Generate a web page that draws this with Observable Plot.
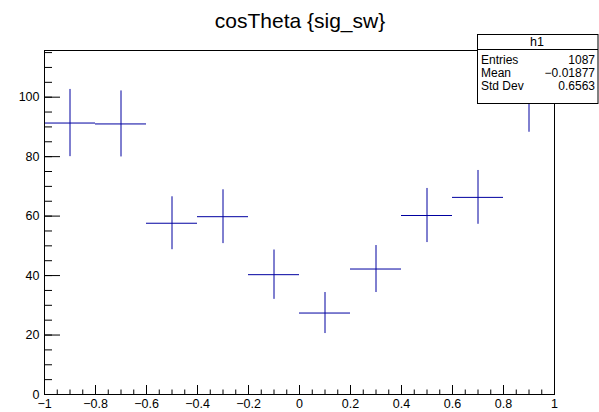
<!DOCTYPE html>
<html><head><meta charset="utf-8">
<script src="https://cdn.jsdelivr.net/npm/d3@7"></script>
<script src="https://cdn.jsdelivr.net/npm/@observablehq/plot@0.6"></script>
<style>body{margin:0;background:#fff;font-family:"Liberation Sans",Arial,sans-serif}</style>
</head><body><div id="chart"></div>
<script>
const binCenters = [-0.9, -0.7, -0.5, -0.3, -0.1, 0.1, 0.3, 0.5, 0.7, 0.9];
const binWidth = 0.2;
const counts = [91.3, 91.0, 57.6, 59.8, 40.3, 27.4, 42.2, 60.2, 66.3, 99.5];
const errors = [11.3, 11.1, 8.9, 9.05, 8.3, 6.9, 7.9, 9.1, 9.05, 11.3];
const xMajor = [-1, -0.8, -0.6, -0.4, -0.2, 0, 0.2, 0.4, 0.6, 0.8, 1];
const yMajor = [0, 20, 40, 60, 80, 100];
const title = "cosTheta {sig_sw}";
const statName = "h1";
const statLabels = ["Entries", "Mean", "Std Dev"];
const statValues = ["1087", "\u22120.01877", "0.6563"];

const xMinor = d3.range(-1, 1.0001, 0.05).map(v => Math.round(v * 100) / 100);
const yMinor = d3.range(0, 116, 5);
const blue = "#0000a0";

const data = binCenters.map((c, i) => ({
  x: c, x1: c - binWidth / 2, x2: c + binWidth / 2,
  y: counts[i], lo: counts[i] - errors[i], hi: counts[i] + errors[i]
}));

const fmt = d3.format("");
const plot = Plot.plot({
  width: 599, height: 412,
  marginLeft: 44, marginRight: 45, marginTop: 50, marginBottom: 18,
  style: {fontFamily: "'Liberation Sans', Arial, sans-serif", fontSize: "12.5px", color: "#000", background: "#fff"},
  x: {domain: [-1, 1]},
  y: {domain: [0, 115.7]},
  marks: [
    Plot.ruleY(data, {y: "y", x1: "x1", x2: "x2", stroke: blue}),
    Plot.ruleX(data, {x: "x", y1: "lo", y2: "hi", stroke: blue}),
    Plot.axisX(xMinor, {tickSize: -4.5, text: null, label: null, stroke: "#000"}),
    Plot.axisX(xMajor, {tickSize: -9, text: null, label: null, stroke: "#000"}),
    Plot.axisX(xMajor, {tickSize: 0, tickPadding: 5, tickFormat: fmt, label: null}),
    Plot.axisY(yMinor, {tickSize: -8, text: null, label: null, stroke: "#000"}),
    Plot.axisY(yMajor, {tickSize: -16, text: null, label: null, stroke: "#000"}),
    Plot.axisY(yMajor, {tickSize: 0, tickPadding: 5, tickFormat: fmt, label: null}),
    Plot.frame({stroke: "#000"})
  ]
});
document.getElementById("chart").appendChild(plot);

const svg = d3.select(plot);
svg.append("text").attr("x", 300).attr("y", 28).attr("text-anchor", "middle")
  .attr("font-size", 21).attr("fill", "#000").text(title);
const g = svg.append("g");
g.append("rect").attr("x", 477.5).attr("y", 34.5).attr("width", 120.5).attr("height", 69)
  .attr("fill", "#fff").attr("stroke", "#000");
g.append("line").attr("x1", 477.5).attr("x2", 598).attr("y1", 49.5).attr("y2", 49.5).attr("stroke", "#000");
g.append("text").attr("x", 537).attr("y", 46).attr("text-anchor", "middle").attr("font-size", 12.5).text(statName);
statLabels.forEach((lab, i) => {
  const yb = 64 + i * 13.2;
  g.append("text").attr("x", 481).attr("y", yb).attr("text-anchor", "start").attr("font-size", 12).text(lab);
  g.append("text").attr("x", 595).attr("y", yb).attr("text-anchor", "end").attr("font-size", 12).text(statValues[i]);
});
</script></body></html>
